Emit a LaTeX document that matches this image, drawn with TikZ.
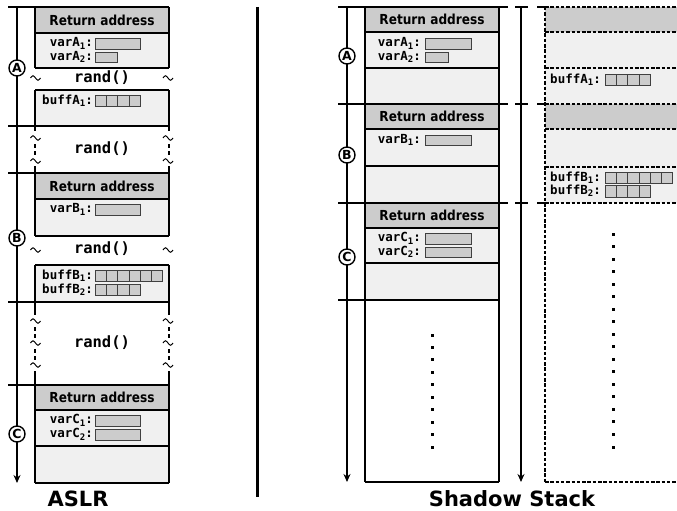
\documentclass[tikz,border=0pt]{standalone}
\usepackage{fontspec}
\setmainfont{DejaVu Sans}
\newfontfamily\hdrfont{DejaVu Sans}[FakeStretch=0.88]
\newfontfamily\monofont{DejaVu Sans Mono}
\usetikzlibrary{arrows.meta}
\definecolor{hdrgray}{HTML}{CCCCCC}
\definecolor{lightgray}{HTML}{F0F0F0}
\definecolor{fieldgray}{HTML}{CCCCCC}
\newcommand\subs[1]{\raisebox{-0.35ex}{\fontsize{9}{9}\selectfont #1}}
\newcommand\cells[4]{\foreach \i in {1,...,#4}{\draw[fld] ({#1+(\i-1)*11.3},#2) rectangle ({#1+\i*11.3},#3);}}
\newcommand\tld[2]{\draw[line width=1pt] ({#1-5},#2) sin ({#1-2.5},{#2-2.2}) cos (#1,#2) sin ({#1+2.5},{#2+2.2}) cos ({#1+5},#2);}
\tikzset{
 box/.style={line width=1.4pt},
 hdr/.style={font=\hdrfont\bfseries\fontsize{13.8}{14}\selectfont, inner sep=0},
 lbl/.style={font=\monofont\bfseries\fontsize{12.5}{12.5}\selectfont, anchor=east, inner sep=0},
 rnd/.style={font=\monofont\bfseries\fontsize{15.5}{16}\selectfont, inner sep=0},
 fld/.style={draw=black!75, fill=fieldgray, line width=0.8pt},
 axis/.style={line width=1.4pt, -{Stealth[length=8pt,width=7pt]}},
 circ/.style={circle, draw, line width=1.4pt, fill=white, minimum size=16pt, inner sep=0, font=\bfseries\fontsize{12.5}{12.5}\selectfont},
 ttl/.style={font=\bfseries\fontsize{21}{22}\selectfont, inner sep=0},
 dsh/.style={dash pattern=on 3.5pt off 1.8pt, line width=1.2pt},
 gapdash/.style={line width=1.4pt, dash pattern=on 4pt off 3pt},
}
\begin{document}
\begin{tikzpicture}[x=1pt,y=-1pt]
\useasboundingbox (0,0) rectangle (677,511);
\fill[white] (0,0) rectangle (677,511);
% ===== ASLR stack =====
\fill[hdrgray] (35,7) rectangle (169,33);
\fill[lightgray] (35,33) rectangle (169,68);
\fill[lightgray] (35,90) rectangle (169,126);
\fill[hdrgray] (35,173) rectangle (169,199);
\fill[lightgray] (35,199) rectangle (169,236);
\fill[lightgray] (35,265) rectangle (169,302);
\fill[hdrgray] (35,385) rectangle (169,410);
\fill[lightgray] (35,410) rectangle (169,483);
\foreach \a/\b in {8/7,35/33,35/68,35/90,8/126,8/173,35/199,35/236,35/265,8/302,8/385,35/410,35/446,35/483}
  \draw[box] (\a,\b) -- (169,\b);
\foreach \x in {35,169}{
  \draw[box] (\x,7) -- (\x,68);
  \draw[box] (\x,90) -- (\x,131);
  \draw[gapdash] (\x,144) -- (\x,156);
  \draw[box] (\x,166) -- (\x,236);
  \draw[box] (\x,265) -- (\x,315);
  \draw[gapdash] (\x,327) -- (\x,338);
  \draw[gapdash] (\x,349) -- (\x,360);
  \draw[box] (\x,371) -- (\x,483);
}
\foreach \x in {35.5,168}{
  \foreach \y in {78,138,161,250,321,343,365} {\tld{\x}{\y}}
}
\draw[axis] (17,7) -- (17,483);
\node[hdr] (ra1) at (102,20) {Return address};
\node[hdr] (rb1) at (102,186) {Return address};
\node[hdr] (rc1) at (102,397.5) {Return address};
\node[rnd] (r1) at (102,78) {rand()};
\node[rnd] (r2) at (102,149) {rand()};
\node[rnd] (r3) at (102,249) {rand()};
\node[rnd] (r4) at (102,343) {rand()};
\draw[fld] (95,38) rectangle (140,49);
\draw[fld] (95,52) rectangle (117,62);
\node[lbl] (va1) at (93,43.5) {varA\subs{1}:};
\node[lbl] (va2) at (93,57) {varA\subs{2}:};
\cells{95}{95}{106}{4}
\node[lbl] (ba1) at (93,100.5) {buffA\subs{1}:};
\draw[fld] (95,204) rectangle (140,215);
\node[lbl] (vb1) at (93,209.5) {varB\subs{1}:};
\cells{95}{270}{281}{6}
\cells{95}{284}{295}{4}
\node[lbl] (bb1) at (93,275.5) {buffB\subs{1}:};
\node[lbl] (bb2) at (93,289.5) {buffB\subs{2}:};
\draw[fld] (95,415) rectangle (140,426);
\draw[fld] (95,429) rectangle (140,440);
\node[lbl] (vc1) at (93,420.5) {varC\subs{1}:};
\node[lbl] (vc2) at (93,434.5) {varC\subs{2}:};
\node[circ] (ca1) at (17,68) {A};
\node[circ] (cb1) at (17,238) {B};
\node[circ] (cc1) at (17,434) {C};
\node[ttl] (t1) at (78,499) {ASLR};
% separator
\draw[line width=2.5pt] (257.5,7) -- (257.5,497);
% ===== Shadow stack: main stack =====
\fill[hdrgray] (365,7) rectangle (499,32);
\fill[lightgray] (365,32) rectangle (499,104);
\fill[hdrgray] (365,104) rectangle (499,129);
\fill[lightgray] (365,129) rectangle (499,203);
\fill[hdrgray] (365,203) rectangle (499,228);
\fill[lightgray] (365,228) rectangle (499,300);
\foreach \y in {7,104,203}{
  \draw[box] (338,\y) -- (508,\y);
  \draw[box] (515,\y) -- (528,\y);
  \draw[box] (537,\y) -- (545,\y);
}
\foreach \y in {32,68,129,166,228,263,482}
  \draw[box] (365,\y) -- (499,\y);
\draw[box] (338,300) -- (499,300);
\draw[box] (365,7) -- (365,482);
\draw[box] (499,7) -- (499,482);
\draw[axis] (347,7) -- (347,482);
\draw[axis] (521,7) -- (521,482);
\node[hdr] (ra2) at (432,19.5) {Return address};
\node[hdr] (rb2) at (432,116.5) {Return address};
\node[hdr] (rc2) at (432,215.5) {Return address};
\draw[fld] (425,38) rectangle (471,49);
\draw[fld] (425,52) rectangle (448,62);
\node[lbl] (va1s) at (421,43.5) {varA\subs{1}:};
\node[lbl] (va2s) at (421,57) {varA\subs{2}:};
\draw[fld] (425,135) rectangle (471,145);
\node[lbl] (vb1s) at (421,140) {varB\subs{1}:};
\draw[fld] (425,233) rectangle (471,244);
\draw[fld] (425,247) rectangle (471,257);
\node[lbl] (vc1s) at (421,238.5) {varC\subs{1}:};
\node[lbl] (vc2s) at (421,252) {varC\subs{2}:};
\foreach \k in {0,...,9}
  \fill ({430.5},{335+\k*12.45-1.5}) rectangle ({433.5},{335+\k*12.45+1.5});
\node[circ] (ca2) at (347,56) {A};
\node[circ] (cb2) at (347,155) {B};
\node[circ] (cc2) at (347,257) {C};
% ===== Shadow stack: shadow region =====
\fill[hdrgray] (545,7) rectangle (680,32);
\fill[lightgray] (545,32) rectangle (680,104);
\fill[hdrgray] (545,104) rectangle (680,129);
\fill[lightgray] (545,129) rectangle (680,203);
\foreach \y in {7,32,68,104,129,167,203,482}
  \draw[dsh] (545,\y) -- (680,\y);
\draw[dsh] (545,7) -- (545,482);
\cells{605}{74}{85}{4}
\node[lbl] (ba1s) at (601,79.5) {buffA\subs{1}:};
\cells{605}{172}{183}{6}
\cells{605}{185}{197}{4}
\node[lbl] (bb1s) at (601,177.5) {buffB\subs{1}:};
\node[lbl] (bb2s) at (601,191) {buffB\subs{2}:};
\foreach \k in {0,...,17}
  \fill ({611.5},{234+\k*12.53-1.5}) rectangle ({614.5},{234+\k*12.53+1.5});
\node[ttl] (t2) at (512,499) {Shadow Stack};
\end{tikzpicture}
\end{document}
